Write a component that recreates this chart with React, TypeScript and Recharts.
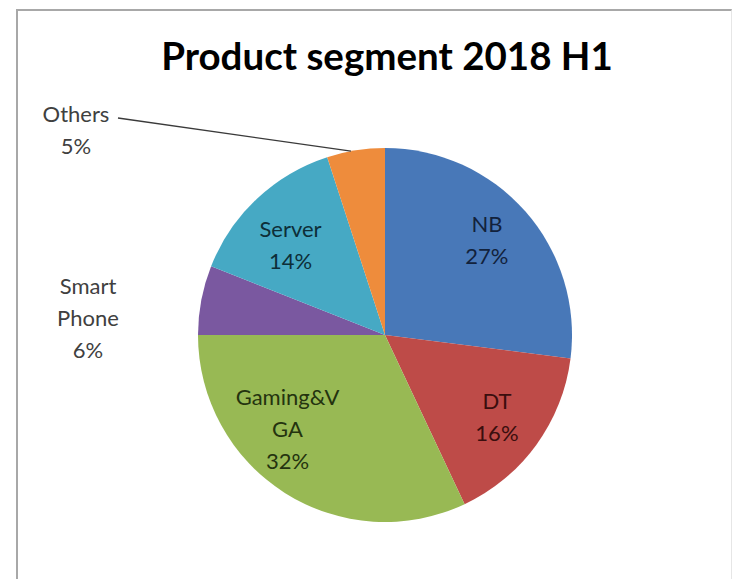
import { Cell, Pie, PieChart } from "recharts";

const segments = ["NB", "DT", "Gaming&VGA", "Smart Phone", "Server", "Others"];
const shares = [27, 16, 32, 6, 14, 5];
const labelLines = [["NB"], ["DT"], ["Gaming&V", "GA"], ["Smart", "Phone"], ["Server"], ["Others"]];
const colors = ["#4878B8", "#BE4B48", "#98B954", "#7A58A0", "#46A9C4", "#EE8C3C"];
const inkColors = ["#12223c", "#3a0e0e", "#24330f", "#404040", "#0d2e38", "#404040"];

const data = segments.map((name, i) => ({ name, value: shares[i] }));

// inside labels: [radius factor, angle nudge]; outside labels: offset from centre
const insidePlace: Record<string, [number, number]> = {
	NB: [0.75, 2],
	DT: [0.74, 0],
	"Gaming&VGA": [0.72, -14],
	Server: [0.7, 3],
};
const outsidePlace: Record<string, [number, number]> = {
	"Smart Phone": [-297, -18],
	Others: [-309, -206],
};

const RAD = Math.PI / 180;
const FONT = "Lato, 'Open Sans', sans-serif";
const LINE = 32;

function renderLabel(props: any) {
	const { cx, cy, midAngle, outerRadius, index } = props;
	const name = segments[index];
	const lines = [...labelLines[index], `${shares[index]}%`];
	let x: number;
	let y: number;
	if (insidePlace[name]) {
		const [f, nudge] = insidePlace[name];
		const a = (midAngle + nudge) * RAD;
		x = cx + outerRadius * f * Math.cos(a);
		y = cy - outerRadius * f * Math.sin(a);
	} else {
		const [dx, dy] = outsidePlace[name];
		x = cx + dx;
		y = cy + dy;
	}
	const top = y - ((lines.length - 1) * LINE) / 2;
	let leader = null;
	if (name === "Others") {
		const a = (midAngle + 1.5) * RAD;
		const ex = cx + outerRadius * Math.cos(a);
		const ey = cy - outerRadius * Math.sin(a);
		leader = <polyline points={`${x + 42},${top + 5} ${ex},${ey}`} fill="none" stroke="#3a3a3a" strokeWidth={1.3} />;
	}
	return (
		<g key={`lbl-${index}`}>
			{leader}
			<text x={x} y={top} textAnchor="middle" dominantBaseline="central" fill={inkColors[index]} fontFamily={FONT} fontSize={22}>
				{lines.map((t, i) => (
					<tspan key={i} x={x} y={top + i * LINE}>
						{t}
					</tspan>
				))}
			</text>
		</g>
	);
}

export default function App() {
	return (
		<div style={{ position: "absolute", left: 0, top: 0, width: 734, height: 579, background: "#fff", overflow: "hidden" }}>
			<div
				style={{
					position: "absolute",
					left: 16,
					top: 9,
					width: 713,
					height: 600,
					borderTop: "2px solid #a8a8a8",
					borderLeft: "2px solid #a8a8a8",
					borderRight: "1px solid #e6e6e6",
				}}
			/>
			<div
				style={{
					position: "absolute",
					left: 0,
					width: 774,
					top: 32,
					textAlign: "center",
					fontFamily: FONT,
					fontWeight: 700,
					fontSize: 38.5,
					color: "#000",
				}}
			>
				Product segment 2018 H1
			</div>
			<div style={{ position: "absolute", left: 0, top: 0 }}>
				<PieChart width={734} height={579} margin={{ top: 0, right: 0, bottom: 0, left: 0 }}>
					<Pie
						data={data}
						dataKey="value"
						nameKey="name"
						cx={385}
						cy={335}
						outerRadius={187}
						startAngle={90}
						endAngle={-270}
						stroke="none"
						label={renderLabel}
						labelLine={false}
						isAnimationActive={false}
					>
						{data.map((d, i) => (
							<Cell key={d.name} fill={colors[i]} />
						))}
					</Pie>
				</PieChart>
			</div>
		</div>
	);
}
